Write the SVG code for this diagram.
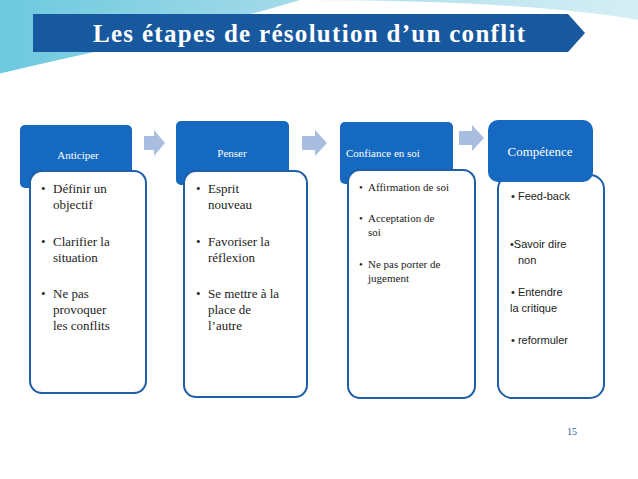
<svg xmlns="http://www.w3.org/2000/svg" width="638" height="479" viewBox="0 0 638 479">
<style>
.hdr{fill:#1569c0}
.body{fill:#fff;stroke:#1e5fa8;stroke-width:2}
.arr{fill:#a9bde0}
.ht{font-family:'Liberation Serif',serif;font-size:11px;fill:#fff}
.bt{font-family:'Liberation Serif',serif;font-size:13px;fill:#222}
.st{font-family:'Liberation Serif',serif;font-size:11px;fill:#222}
.ct{font-family:'Liberation Sans',sans-serif;font-size:11px;fill:#222}
</style>
<defs>
<linearGradient id="bg" x1="0" y1="0" x2="1" y2="0">
<stop offset="0" stop-color="#6cc9de"/><stop offset="0.5" stop-color="#a9dcea"/><stop offset="1" stop-color="#d5eff5"/>
</linearGradient>
</defs>
<rect width="638" height="479" fill="#fff"/>
<path d="M0 0 H638 V20 Q520 0 300 0 Q200 30 0 75 Z" fill="url(#bg)"/>
<path d="M0 75 Q150 40 330 5" fill="none" stroke="#fff" stroke-width="3"/>
<g id="title">
<path d="M33 14 H568 L585 33 L568 52 H33 Z" fill="#17589e"/>
<text x="309" y="42" text-anchor="middle" font-family="Liberation Serif,serif" font-size="25" font-weight="bold" fill="#fff" textLength="432">Les étapes de résolution d’un conflit</text>
</g>
<g id="connectors">
<path class="arr" d="M144 136 H154 V130 L165 143 L154 156 V150 H144 Z"/>
<path class="arr" d="M302 136 H315 V130 L327 143 L315 156 V150 H302 Z"/>
<path class="arr" d="M459 131 H472 V125 L484 138 L472 151 V145 H459 Z"/>
</g>
<g id="n1">
<rect class="hdr" x="20" y="125" width="112" height="63" rx="5"/>
<rect class="body" x="30" y="171" width="116" height="222" rx="12"/>
<text class="ht" x="78" y="159" text-anchor="middle">Anticiper</text>
<text class="bt" x="41" y="193">•</text>
<text class="bt" x="53" y="193">Définir un</text><text class="bt" x="53" y="209">objectif</text>
<text class="bt" x="41" y="246">•</text>
<text class="bt" x="53" y="246">Clarifier la</text><text class="bt" x="53" y="262">situation</text>
<text class="bt" x="41" y="298">•</text>
<text class="bt" x="53" y="298">Ne pas</text><text class="bt" x="53" y="314">provoquer</text><text class="bt" x="53" y="330">les conflits</text>
</g>
<g id="n2">
<rect class="hdr" x="176" y="121" width="113" height="64" rx="5"/>
<rect class="body" x="184" y="171" width="123" height="226" rx="12"/>
<text class="ht" x="232" y="157" text-anchor="middle">Penser</text>
<text class="bt" x="196" y="193">•</text>
<text class="bt" x="208" y="193">Esprit</text><text class="bt" x="208" y="209">nouveau</text>
<text class="bt" x="196" y="246">•</text>
<text class="bt" x="208" y="246">Favoriser la</text><text class="bt" x="208" y="262">réflexion</text>
<text class="bt" x="196" y="298">•</text>
<text class="bt" x="208" y="298">Se mettre à la</text><text class="bt" x="208" y="314">place de</text><text class="bt" x="208" y="330">l’autre</text>
</g>
<g id="n3">
<rect class="hdr" x="340" y="122" width="113" height="62" rx="5"/>
<rect class="body" x="348" y="170" width="127" height="228" rx="12"/>
<text class="ht" x="346" y="157">Confiance en soi</text>
<text class="st" x="359" y="191">•</text>
<text class="st" x="368" y="191">Affirmation de soi</text>
<text class="st" x="359" y="222">•</text>
<text class="st" x="368" y="222">Acceptation de</text><text class="st" x="368" y="236">soi</text>
<text class="st" x="359" y="268">•</text>
<text class="st" x="368" y="268">Ne pas porter de</text><text class="st" x="368" y="282">jugement</text>
</g>
<g id="n4">
<rect class="body" x="498" y="175" width="106" height="223" rx="14"/>
<rect class="hdr" x="488" y="120" width="105" height="62" rx="10"/>
<text x="540" y="156" text-anchor="middle" font-family="Liberation Serif,serif" font-size="13" fill="#fff">Compétence</text>
<text class="ct" x="511" y="200">• Feed-back</text>
<text class="ct" x="510" y="248">•Savoir  dire</text><text class="ct" x="518" y="264">non</text>
<text class="ct" x="511" y="296">• Entendre</text><text class="ct" x="510" y="312">la critique</text>
<text class="ct" x="511" y="344">• reformuler</text>
</g>
<text x="572" y="435" text-anchor="middle" font-family="Liberation Serif,serif" font-size="10" fill="#1e5fa8">15</text>
</svg>
